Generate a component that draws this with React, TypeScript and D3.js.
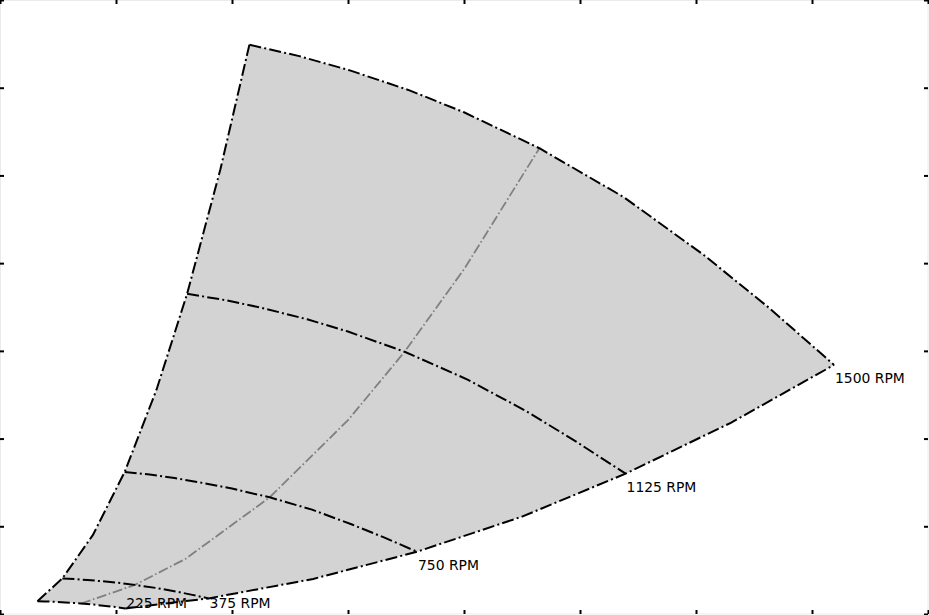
import React, { useEffect, useRef } from "react";
import * as d3 from "d3";

// fan map data (flow in m3/h, pressure in Pa)
const speedLabels = ["225 RPM", "375 RPM", "750 RPM", "1125 RPM", "1500 RPM"];

const flow225 = [323, 387, 452, 530, 600, 698, 807, 911, 995, 1079];
const pres225 = [14.6, 14.3, 14.0, 13.4, 12.9, 11.9, 10.7, 9.2, 7.9, 6.4];
const flow375 = [538, 645, 753, 883, 1000, 1163, 1345, 1518, 1658, 1798];
const pres375 = [40.6, 39.8, 38.8, 37.3, 35.8, 33.2, 29.7, 25.6, 21.8, 17.8];
const flow750 = [1075, 1290, 1505, 1765, 2000, 2325, 2690, 3035, 3315, 3595];
const pres750 = [162, 159, 155, 149, 143, 133, 119, 102, 87, 71];
const flow1125 = [1613, 1935, 2258, 2648, 3000, 3488, 4035, 4553, 4973, 5393];
const pres1125 = [365, 358, 349, 336, 322, 299, 267, 230, 196, 160];
const flow1500 = [2150, 2580, 3010, 3530, 4000, 4650, 5380, 6070, 6630, 7190];
const pres1500 = [649, 636, 620, 597, 572, 531, 475, 409, 349, 284];

// surge line (left edge) and max-flow line (right edge)
const surgeFlow = [323, 538, 800, 1075, 1350, 1613, 1900, 2150];
const surgePres = [14.6, 40.6, 89.9, 162, 256, 365, 507, 649];
const maxFlow = [1079, 1798, 2700, 3595, 4500, 5393, 6300, 7190];
const maxPres = [6.4, 17.8, 40.0, 71, 111, 160, 218, 284];

// best efficiency line
const bepFlow = [698, 1163, 1600, 2325, 3000, 3488, 4000, 4650];
const bepPres = [11.9, 33.2, 62.9, 133, 221, 299, 393, 531];

const xTicks = [0, 1000, 2000, 3000, 4000, 5000, 6000, 7000, 8000];
const yTicks = [0, 100, 200, 300, 400, 500, 600, 700];

const zip = (xs: number[], ys: number[]) => xs.map((v, i) => [v, ys[i]] as [number, number]);

const FanMap = () => {
  const container = useRef<HTMLDivElement>(null);

  useEffect(() => {
    const width = 929;
    const height = 615;
    const plotW = 928;
    const plotH = 614;

    const svg = d3
      .select(container.current)
      .append("svg")
      .attr("width", width)
      .attr("height", height)
      .style("position", "absolute")
      .style("left", "0px")
      .style("top", "0px")
      .style("background", "white");

    const x = d3.scaleLinear().domain([0, 8000]).range([0, plotW]);
    const y = d3.scaleLinear().domain([0, 700]).range([plotH, 0]);

    const line = d3
      .line<[number, number]>()
      .x((d) => x(d[0]))
      .y((d) => y(d[1]));

    const speedCurves = [
      zip(flow225, pres225),
      zip(flow375, pres375),
      zip(flow750, pres750),
      zip(flow1125, pres1125),
      zip(flow1500, pres1500),
    ];
    const surge = zip(surgeFlow, surgePres);
    const right = zip(maxFlow, maxPres);
    const bep = zip(bepFlow, bepPres);

    // gray region: surge up, top speed across, max-flow down, lowest speed back
    const outline = [
      ...surge,
      ...speedCurves[4],
      ...right.slice().reverse(),
      ...speedCurves[0].slice().reverse(),
    ];
    svg
      .append("path")
      .attr("d", line(outline) + "Z")
      .style("fill", "#d3d3d3")
      .style("stroke", "none");

    // frame
    svg
      .append("rect")
      .attr("x", 0.5)
      .attr("y", 0.5)
      .attr("width", plotW - 0.5)
      .attr("height", plotH - 0.5)
      .style("fill", "none")
      .style("stroke", "#ebebeb")
      .style("stroke-width", 1);

    // best efficiency line
    svg
      .append("path")
      .attr("d", line(bep))
      .style("fill", "none")
      .style("stroke", "#808080")
      .style("stroke-width", 1.8)
      .style("stroke-dasharray", "10,2.6,1.6,2.6");

    const blackDash = "12,3.2,2,3.2";
    [surge, right, ...speedCurves].forEach((c) => {
      svg
        .append("path")
        .attr("d", line(c))
        .style("fill", "none")
        .style("stroke", "#000")
        .style("stroke-width", 2)
        .style("stroke-dasharray", blackDash);
    });

    // speed labels at the end of each curve
    speedCurves.forEach((c, i) => {
      const end = c[c.length - 1];
      svg
        .append("text")
        .attr("x", x(end[0]) + 1)
        .attr("y", Math.min(y(end[1]) + 18, 608))
        .style("font-family", "DejaVu Sans")
        .style("font-size", "13.9px")
        .style("fill", "#000")
        .text(speedLabels[i]);
    });

    // inward ticks on all four sides, no labels
    const styleAxis = (g: any) => {
      g.select(".domain").remove();
      g.selectAll(".tick line").attr("stroke", "#000").attr("stroke-width", 2);
      g.selectAll(".tick text").remove();
    };
    svg.append("g").call(d3.axisTop(x).tickValues(xTicks).tickSize(-4)).call(styleAxis);
    svg
      .append("g")
      .attr("transform", `translate(0,${plotH})`)
      .call(d3.axisBottom(x).tickValues(xTicks).tickSize(-4))
      .call(styleAxis);
    svg.append("g").call(d3.axisLeft(y).tickValues(yTicks).tickSize(-4)).call(styleAxis);
    svg
      .append("g")
      .attr("transform", `translate(${plotW},0)`)
      .call(d3.axisRight(y).tickValues(yTicks).tickSize(-4))
      .call(styleAxis);

    return () => {
      d3.select(container.current).select("svg").remove();
    };
  }, []);

  return <div ref={container}></div>;
};

export default function App() {
  return <FanMap />;
}
